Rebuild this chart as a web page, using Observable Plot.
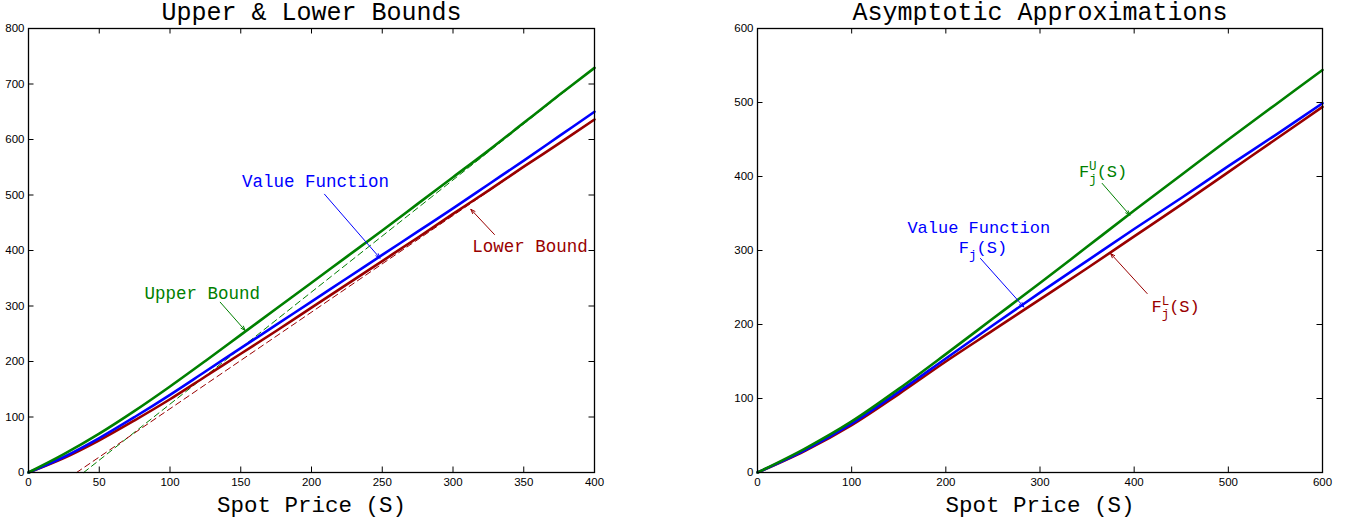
<!DOCTYPE html>
<html>
<head>
<meta charset="utf-8">
<script src="https://cdn.jsdelivr.net/npm/d3@7"></script>
<script src="https://cdn.jsdelivr.net/npm/@observablehq/plot@0.6"></script>
<style>
  html, body { margin: 0; padding: 0; background: white; }
  #wrap { position: relative; width: 1361px; height: 519px; }
  #left { position: absolute; left: 0; top: 0; }
  #right { position: absolute; left: 720px; top: 0; }
</style>
</head>
<body>
<div id="wrap"><div id="left"></div><div id="right"></div></div>
<script>
// ---------- data: left panel (Upper & Lower Bounds) ----------
const leftTitle = "Upper & Lower Bounds";
const xLabel = "Spot Price (S)";
const leftXTicks = [0, 50, 100, 150, 200, 250, 300, 350, 400];
const leftYTicks = [0, 100, 200, 300, 400, 500, 600, 700, 800];
const leftS     = [0, 25, 50, 75, 100, 125, 150, 175, 200, 225, 250, 275, 300, 325, 350, 375, 400];
const leftUpper = [0, 33, 70, 111, 155, 201, 248, 295, 342, 389, 436, 484, 532, 580, 630, 680, 729];
const leftValue = [0, 28, 62, 100, 140, 182, 224, 266, 308, 350, 392, 434, 476, 519, 562, 606, 650];
const leftLower = [0, 26, 58, 94, 132, 173, 214, 255, 297, 339, 381, 423, 466, 508, 551, 593, 636];
const leftUpperAsymS = [39, 400];
const leftUpperAsymV = [0, 729];
const leftLowerAsymS = [34, 400];
const leftLowerAsymV = [0, 637];
const leftNoteText = ["Value Function", "Upper Bound", "Lower Bound"];
const leftNoteS = [202.8, 122.8, 354.4];
const leftNoteV = [524, 322, 408];
const leftArrowS1 = [209.2, 135.5, 329.3];
const leftArrowV1 = [501.4, 306.8, 428.8];
const leftArrowS2 = [248.4, 153.1, 312.6];
const leftArrowV2 = [386.3, 255.9, 474.2];

// ---------- data: right panel (Asymptotic Approximations) ----------
const rightTitle = "Asymptotic Approximations";
const rightXTicks = [0, 100, 200, 300, 400, 500, 600];
const rightYTicks = [0, 100, 200, 300, 400, 500, 600];
const rightS     = [0, 50, 100, 150, 200, 250, 300, 350, 400, 450, 500, 550, 600];
const rightUpper = [0, 32, 69, 113, 160, 208, 256, 305, 354, 402, 450, 497, 544];
const rightValue = [0, 30, 66, 109, 154, 199, 243, 286, 329, 371, 414, 456, 499];
const rightLower = [0, 29, 64, 106, 150, 192, 234, 276, 319, 362, 406, 450, 494];
const rightNoteText = ["Value Function", "F_j(S)", "F^U_j(S)", "F^L_j(S)"];
const rightNoteS = [235, 239.5, 367, 444];
const rightNoteV = [330.5, 304.5, 407, 224.6];
const rightArrowS1 = [236.8, 366, 413.8];
const rightArrowV1 = [289.2, 390.7, 241.8];
const rightArrowS2 = [282.8, 395.4, 374.9];
const rightArrowV2 = [223.7, 347.8, 296];

// ---------- styles ----------
const GREEN = "#008000", BLUE = "#0000ff", RED = "#990000";
const leftNoteColor = [BLUE, GREEN, RED];
const rightNoteColor = [BLUE, BLUE, GREEN, RED];
const arrowColor = [BLUE, GREEN, RED];
const MONO = "Liberation Mono, DejaVu Sans Mono, monospace";
const SANS = "Liberation Sans, Arial, sans-serif";
const H = 519, MT = 28, MB = 47, TICK = 5.5;

function panel({width, ml, mr, xMax, yMax, xTicks, yTicks, title, S, curves, asym, notes, arrows, noteSize}) {
  const fw = width - ml - mr, fh = H - MT - MB;
  const marks = [];
  for (const a of asym) {
    marks.push(Plot.lineY(a.v, {x: a.s, stroke: a.color, strokeWidth: 1, strokeDasharray: "6,4"}));
  }
  for (const c of curves) {
    marks.push(Plot.lineY(c.v, {x: S, stroke: c.color, strokeWidth: 2.6, curve: "catmull-rom"}));
  }
  // inward ticks on all four sides
  marks.push(Plot.tickX(xTicks, {x: d => d, insetTop: fh - TICK, stroke: "black"}));
  marks.push(Plot.tickX(xTicks, {x: d => d, insetBottom: fh - TICK, stroke: "black"}));
  marks.push(Plot.tickY(yTicks, {y: d => d, insetRight: fw - TICK, stroke: "black"}));
  marks.push(Plot.tickY(yTicks, {y: d => d, insetLeft: fw - TICK, stroke: "black"}));
  marks.push(Plot.frame({stroke: "black", strokeWidth: 1.3}));
  marks.push(Plot.axisX({ticks: xTicks, tickSize: 0, tickPadding: 5, label: null, fontSize: 11.5, fontFamily: SANS, tickFormat: d => String(d)}));
  marks.push(Plot.axisY({ticks: yTicks, tickSize: 0, tickPadding: 4, label: null, fontSize: 11.5, fontFamily: SANS, tickFormat: d => String(d)}));
  marks.push(Plot.arrow(arrows.s1, {
    x1: arrows.s1, y1: arrows.v1, x2: arrows.s2, y2: arrows.v2,
    stroke: (d, i) => arrows.color[i], strokeWidth: 1, headLength: 7, headAngle: 40
  }));
  marks.push(Plot.text(notes.text, {
    x: notes.s, y: notes.v, text: d => d, fill: (d, i) => notes.color[i],
    fontFamily: MONO, fontSize: noteSize, textAnchor: "middle", lineAnchor: "middle"
  }));
  marks.push(Plot.text([title], {frameAnchor: "top", dy: -17, text: d => d, fontFamily: MONO, fontSize: 25, fill: "black", lineAnchor: "middle"}));
  marks.push(Plot.text([xLabel], {frameAnchor: "bottom", dy: 32, text: d => d, fontFamily: MONO, fontSize: 22.5, fill: "black", lineAnchor: "middle"}));
  return Plot.plot({
    width, height: H,
    marginLeft: ml, marginRight: mr, marginTop: MT, marginBottom: MB,
    x: {domain: [0, xMax]},
    y: {domain: [0, yMax]},
    color: {type: "identity"},
    style: {background: "white", fontFamily: SANS, fontSize: "11.5px", overflow: "visible"},
    marks
  });
}

// turn "F^U_j(S)" / "F_j(S)" placeholder strings into real super/subscript text
function richify(svg) {
  d3.select(svg).selectAll("text").each(function () {
    const t = this.textContent;
    const m = /^F(?:\^(\w))?_(\w)\(S\)$/.exec(t);
    if (!m) return;
    const sel = d3.select(this);
    sel.text(null);
    sel.append("tspan").text("F");
    if (m[1]) {
      sel.append("tspan").attr("font-size", 12.5).attr("dy", -7).text(m[1]);
      sel.append("tspan").attr("font-size", 12.5).attr("dx", -7.5).attr("dy", 13).text(m[2]);
      sel.append("tspan").attr("dy", -6).text("(S)");
    } else {
      sel.append("tspan").attr("font-size", 12.5).attr("dy", 6).text(m[2]);
      sel.append("tspan").attr("dy", -6).text("(S)");
    }
  });
}

const left = panel({
  width: 620, ml: 28, mr: 26, xMax: 400, yMax: 800, noteSize: 17.5,
  xTicks: leftXTicks, yTicks: leftYTicks, title: leftTitle, S: leftS,
  curves: [{v: leftLower, color: RED}, {v: leftValue, color: BLUE}, {v: leftUpper, color: GREEN}],
  asym: [{s: leftUpperAsymS, v: leftUpperAsymV, color: GREEN}, {s: leftLowerAsymS, v: leftLowerAsymV, color: RED}],
  notes: {text: leftNoteText, s: leftNoteS, v: leftNoteV, color: leftNoteColor},
  arrows: {s1: leftArrowS1, v1: leftArrowV1, s2: leftArrowS2, v2: leftArrowV2, color: arrowColor}
});
const right = panel({
  width: 641, ml: 37, mr: 39, xMax: 600, yMax: 600, noteSize: 17,
  xTicks: rightXTicks, yTicks: rightYTicks, title: rightTitle, S: rightS,
  curves: [{v: rightLower, color: RED}, {v: rightValue, color: BLUE}, {v: rightUpper, color: GREEN}],
  asym: [],
  notes: {text: rightNoteText, s: rightNoteS, v: rightNoteV, color: rightNoteColor},
  arrows: {s1: rightArrowS1, v1: rightArrowV1, s2: rightArrowS2, v2: rightArrowV2, color: arrowColor}
});
richify(right);
document.getElementById("left").appendChild(left);
document.getElementById("right").appendChild(right);
</script>
</body>
</html>
